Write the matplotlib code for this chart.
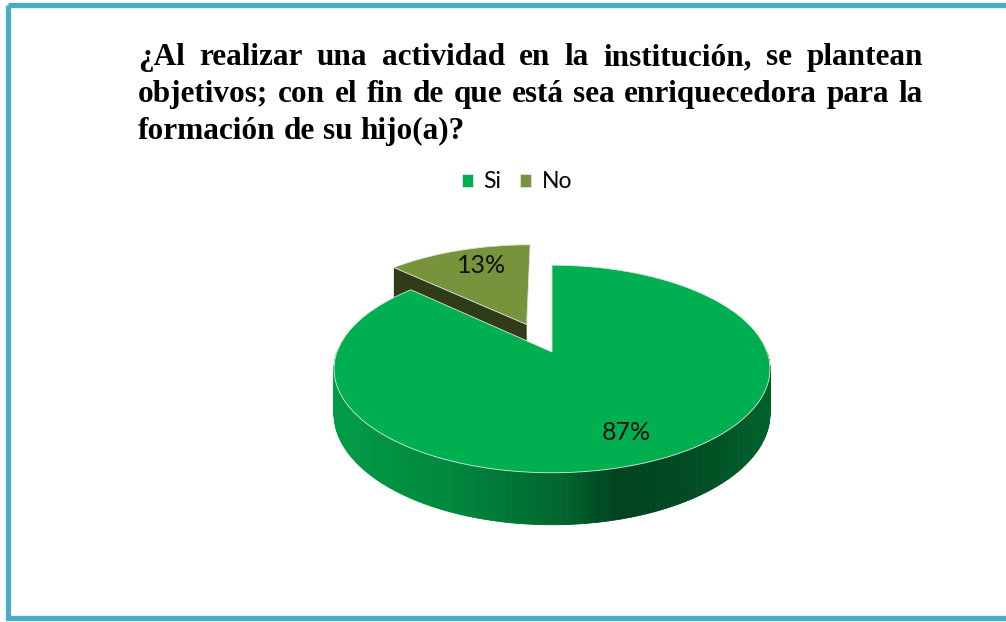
import numpy as np
import matplotlib
matplotlib.use("Agg")
import matplotlib.pyplot as plt
from matplotlib.path import Path
from matplotlib.transforms import Transform
from matplotlib.patches import Rectangle, Polygon
from matplotlib.collections import PolyCollection
from matplotlib.colors import to_rgb

labels = ["Si", "No"]
values = [87, 13]
colors = ["#00B050", "#77933C"]
explode = [0.0, 0.31]

title_lines = [
    "¿Al realizar una actividad en la institución, se plantean",
    "objetivos; con el fin de que está sea enriquecedora para la",
    "formación de su hijo(a)?",
]

# pie plane -> pixel coords (simple perspective, back is squeezed)
CX, CY = 552, 352
A, B, K = 215, 101, 0.1635
DEPTH = 43.5


class Persp(Transform):
    input_dims = output_dims = 2
    is_separable = False

    def __init__(self, z=0.0):
        super().__init__()
        self.z = z

    def transform_non_affine(self, xy):
        xy = np.atleast_2d(np.asarray(xy, float))
        x, y = xy[:, 0], xy[:, 1]
        s = 1.0 / (1.0 + K * y)
        return np.column_stack([CX + A * x * s, CY + (-B * y + self.z) * s])

    def transform_path_non_affine(self, path):
        pts = [seg(np.linspace(0, 1, 30)) for seg, code in path.iter_bezier()]
        return Path(self.transform_non_affine(np.concatenate(pts)))


def shade(c, f):
    return tuple(np.clip(np.array(to_rgb(c)) * f, 0, 1))


fig = plt.figure(figsize=(10.06, 6.22), dpi=100)
ax = fig.add_axes([0, 0, 1, 1])

wedges, texts, autotexts = ax.pie(
    values, colors=colors, explode=explode, startangle=90, counterclock=False,
    autopct="%1.0f%%", pctdistance=0.77,
    wedgeprops=dict(linewidth=0.6, edgecolor="#dde8dd"),
    textprops=dict(fontsize=18, family="Lato", color="#111111"),
)

top = Persp(0.0)
bot = Persp(DEPTH)

# wall gradient: darkening factor against screen x
gx = [0.0, 0.27, 0.52, 0.65, 0.85, 1.0]
gf = [0.88, 0.77, 0.58, 0.38, 0.44, 0.55]

for w, t in zip(wedges, autotexts):
    th1, th2 = w.theta1, w.theta2
    c = np.array(w.center)
    mid = np.deg2rad((th1 + th2) / 2)
    rank = 0 if np.sin(mid) > 0 else 1
    zb = 1 + 2 * rank
    w.set_transform(top + ax.transData)
    w.set_zorder(zb + 1)
    t.set_position(top.transform(np.atleast_2d(t.get_position()))[0])
    t.set_zorder(10)

    # outer wall (front facing part)
    th = np.deg2rad(np.linspace(th1, th2, 400))
    quads, fcs = [], []
    for a0, a1 in zip(th[:-1], th[1:]):
        if np.sin((a0 + a1) / 2) >= 0:
            continue
        p = np.array([[np.cos(a0), np.sin(a0)], [np.cos(a1), np.sin(a1)]]) + c
        pt, pb = top.transform(p), bot.transform(p)
        quads.append([pt[0], pt[1], pb[1], pb[0]])
        u = (pt[:, 0].mean() - (CX - A)) / (2 * A)
        fcs.append(shade(w.get_facecolor(), np.interp(u, gx, gf)))
    if quads:
        ax.add_collection(PolyCollection(quads, facecolors=fcs, edgecolors=fcs,
                                         linewidths=0.6, zorder=zb))

    # radial cut faces that look towards the viewer
    for ang, sign in [(th1, -1), (th2, 1)]:
        a = np.deg2rad(ang)
        if sign * np.cos(a) >= -1e-6:
            continue
        p = np.array([c, c + [np.cos(a), np.sin(a)]])
        pt, pb = top.transform(p), bot.transform(p)
        ax.add_patch(Polygon([pt[0], pt[1], pb[1], pb[0]], closed=True,
                             facecolor=shade(w.get_facecolor(), 0.4),
                             edgecolor="none", zorder=zb))

# small label nudge for the exploded slice
autotexts[1].set_x(autotexts[1].get_position()[0] + 9)

ax.set_xlim(0, 1006)
ax.set_ylim(622, 0)
ax.set_aspect("auto")
ax.axis("off")

ax.legend(wedges, labels, loc="center", bbox_to_anchor=(517, 182),
          bbox_transform=ax.transData, ncol=2, frameon=False,
          prop=dict(family="Lato", size=16.5), handlelength=0.5,
          handleheight=0.5, handletextpad=0.45, columnspacing=0.8)

# title, first lines justified between x0 and x1
x0, x1 = 138, 923
baselines = [65, 102, 139]
TS = 22.5
renderer = fig.canvas.get_renderer()
for i, (line, yb) in enumerate(zip(title_lines, baselines)):
    words = line.split(" ")
    objs = [ax.text(x0, yb, wd, family="Liberation Serif", weight="bold",
                    fontsize=TS, va="baseline", ha="left") for wd in words]
    widths = [o.get_window_extent(renderer).width for o in objs]
    if i < len(title_lines) - 1:
        gap = (x1 - x0 - sum(widths)) / (len(words) - 1)
    else:
        space = ax.text(0, 0, "a b", family="Liberation Serif", weight="bold", fontsize=TS)
        sp = space.get_window_extent(renderer).width
        space.remove()
        ab = ax.text(0, 0, "ab", family="Liberation Serif", weight="bold", fontsize=TS)
        gap = sp - ab.get_window_extent(renderer).width
        ab.remove()
    x = x0
    for o, wd in zip(objs, widths):
        o.set_x(x)
        x += wd + gap

# chart frame (right side runs off the picture)
ax.add_patch(Rectangle((8.5, 5), 1010, 612.5, fill=False, edgecolor="#4BACC6",
                       linewidth=3.8, zorder=20, clip_on=False))

fig.savefig("out.png", dpi=100)
